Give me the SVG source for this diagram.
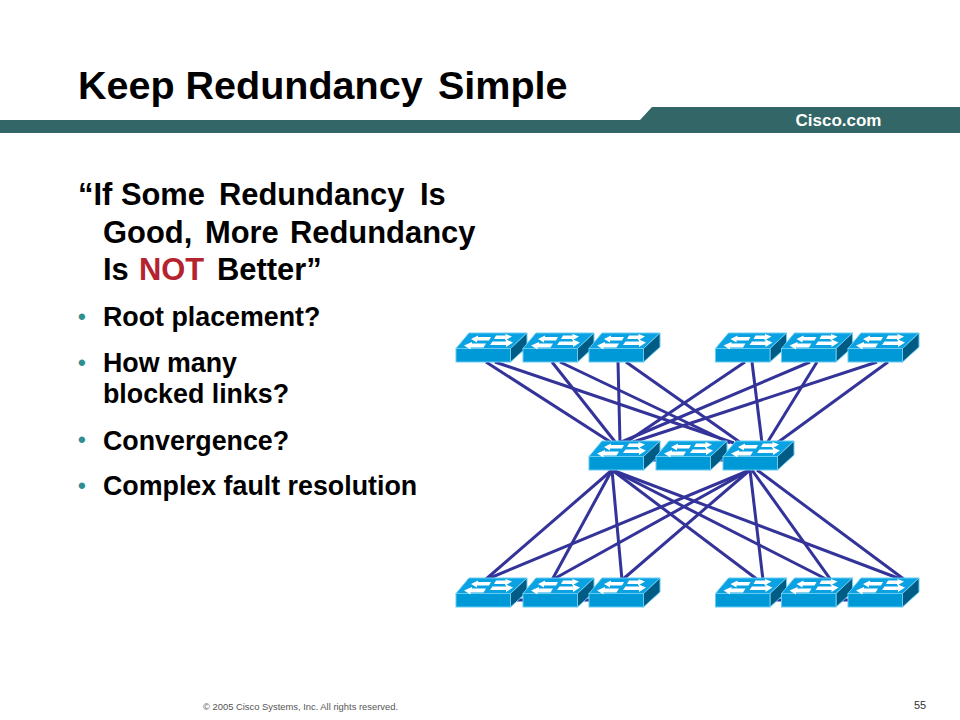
<svg xmlns="http://www.w3.org/2000/svg" width="960" height="720" viewBox="0 0 960 720">
<style>
text{font-family:"Liberation Sans",Arial,sans-serif;fill:#000}
.h{font-size:30.900px;font-weight:700}
.l{font-size:26.800px;font-weight:700}
.d{fill:#2f8f8f;font-size:22px;font-weight:700}
.c line{stroke:#333399;stroke-width:3;fill:none}
.f{fill:#0099d8;stroke:#66ccf2;stroke-width:1}
.t{fill:#0aa2e2;stroke:#66ccf2;stroke-width:1}
.s{fill:#005b85;stroke:#66ccf2;stroke-width:1}
.a{fill:#fff}
</style>
<defs>
<g id="sw">
<polygon class="t" points="0,15.500 13,0 71,0 54.500,15.500"/>
<polygon class="s" points="54.500,15.500 71,0 71,14 54.500,29"/>
<rect class="f" x="0" y="15.500" width="54.500" height="13.500"/>
<path class="a" d="M15 6l7-3.500v1.500h13l-2 3.500h-12v2zM56 3.500l-7 4v-1.500h-11l2-3.500h9.500v-1.500zM8 12.500l8-3.500 v1.500h14l-2.500 4h-13v2zM57 9.500l-7 4.500v-2h-16l2.500-3.500h13.500v-2z"/>
</g>
</defs>
<rect id="bar" x="0" y="120" width="960" height="13" fill="#336666"/>
<polygon id="tab" points="640,120 652,107 960,107 960,120" fill="#336666"/>
<text x="795.500" y="126" style="fill:#fff;font-size:17px;font-weight:700">Cisco.com</text>
<text y="99" style="font-size:39.500px;font-weight:700"><tspan x="78">Keep Redundancy</tspan><tspan x="438">Simple</tspan></text>
<text class="h" y="205"><tspan x="78">“If Some</tspan><tspan x="219">Redundancy</tspan><tspan x="420">Is</tspan></text>
<text class="h" y="243"><tspan x="103">Good,</tspan><tspan x="205">More</tspan><tspan x="290">Redundancy</tspan></text>
<text class="h" y="280"><tspan x="103">Is</tspan><tspan x="139" style="fill:#b5232f">NOT</tspan><tspan x="217">Better”</tspan></text>
<text class="d" x="78" y="323.500">•</text>
<text class="l" x="103" y="326">Root placement?</text>
<text class="d" x="78" y="369.500">•</text>
<text class="l" x="103" y="372">How many</text>
<text class="l" x="103" y="403">blocked links?</text>
<text class="d" x="78" y="446.500">•</text>
<text class="l" x="103" y="450">Convergence?</text>
<text class="d" x="78" y="492.500">•</text>
<text class="l" x="103" y="495">Complex fault resolution</text>
<text x="203" y="710" style="font-size:9.400px;fill:#555">© 2005  Cisco Systems, Inc. All rights reserved.</text>
<text x="914" y="709" style="font-size:11px;fill:#333">55</text>
<g id="connectors" class="c">
<line x1="510" y1="350" x2="525" y2="350"/><line x1="577" y1="350" x2="591" y2="350"/>
<line x1="770" y1="350" x2="783" y2="350"/><line x1="836" y1="350" x2="850" y2="350"/>
<line x1="644" y1="460" x2="658" y2="460"/><line x1="710" y1="460" x2="725" y2="460"/>
<line x1="510" y1="600" x2="525" y2="600"/><line x1="577" y1="600" x2="591" y2="600"/>
<line x1="770" y1="600" x2="783" y2="600"/><line x1="836" y1="600" x2="850" y2="600"/>
<line x1="486" y1="362" x2="612" y2="443"/><line x1="495" y1="362" x2="734" y2="443"/>
<line x1="552" y1="362" x2="616" y2="443"/><line x1="560" y1="362" x2="730" y2="443"/>
<line x1="618" y1="362" x2="620" y2="443"/><line x1="626" y1="362" x2="741" y2="443"/>
<line x1="745" y1="362" x2="625" y2="443"/><line x1="752" y1="362" x2="762" y2="443"/>
<line x1="810" y1="362" x2="619" y2="443"/><line x1="817" y1="362" x2="767" y2="443"/>
<line x1="877" y1="362" x2="630" y2="443"/><line x1="888" y1="362" x2="777" y2="443"/>
<line x1="612" y1="470" x2="485" y2="580"/><line x1="612" y1="470" x2="552" y2="580"/><line x1="612" y1="470" x2="622" y2="580"/>
<line x1="612" y1="470" x2="758" y2="580"/><line x1="612" y1="470" x2="828" y2="580"/><line x1="612" y1="470" x2="903" y2="580"/>
<line x1="750" y1="470" x2="485" y2="580"/><line x1="750" y1="470" x2="552" y2="580"/><line x1="750" y1="470" x2="622" y2="580"/>
<line x1="750" y1="470" x2="763" y2="580"/><line x1="752" y1="470" x2="831" y2="580"/><line x1="757" y1="470" x2="905" y2="580"/>
</g>
<g id="top1"><use href="#sw" x="456" y="333"/></g>
<g id="top2"><use href="#sw" x="523" y="333"/></g>
<g id="top3"><use href="#sw" x="589" y="333"/></g>
<g id="top4"><use href="#sw" x="715.500" y="333"/></g>
<g id="top5"><use href="#sw" x="781.500" y="333"/></g>
<g id="top6"><use href="#sw" x="848" y="333"/></g>
<g id="mid1"><use href="#sw" x="589" y="441"/></g>
<g id="mid2"><use href="#sw" x="656" y="441"/></g>
<g id="mid3"><use href="#sw" x="723" y="441"/></g>
<g id="bot1"><use href="#sw" x="456" y="578"/></g>
<g id="bot2"><use href="#sw" x="523" y="578"/></g>
<g id="bot3"><use href="#sw" x="589" y="578"/></g>
<g id="bot4"><use href="#sw" x="715.500" y="578"/></g>
<g id="bot5"><use href="#sw" x="781.500" y="578"/></g>
<g id="bot6"><use href="#sw" x="848" y="578"/></g>
</svg>
